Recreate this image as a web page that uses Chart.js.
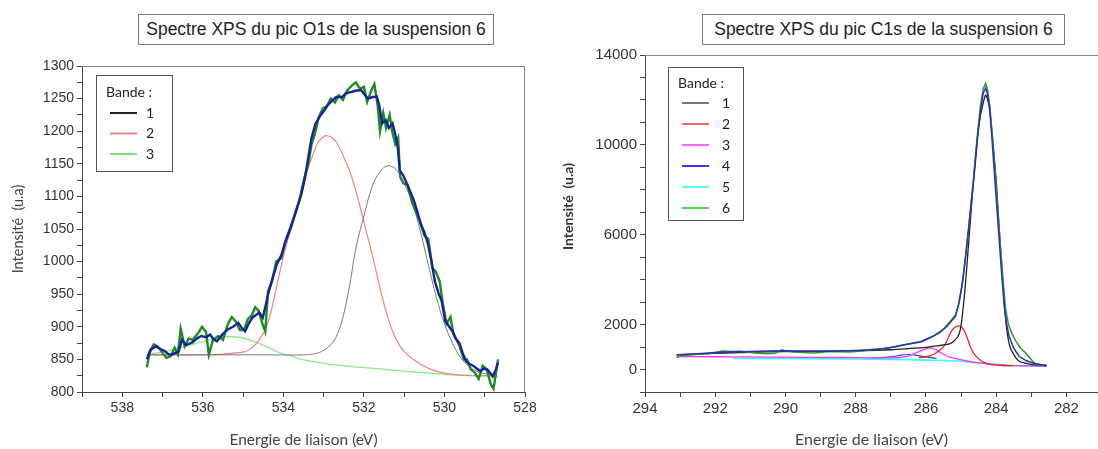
<!DOCTYPE html>
<html>
<head>
<meta charset="utf-8">
<script src="https://cdn.jsdelivr.net/npm/chart.js@4.4.1/dist/chart.umd.min.js"></script>
<style>
body { margin: 0; background: #fff; width: 1098px; height: 449px; position: relative; overflow: hidden; }
.wrap { position: absolute; top: 0; height: 449px; }
.title { position: absolute; box-sizing: border-box; border: 1px solid #777; background: #fff;
  font-family: "Liberation Sans", Arial, sans-serif; font-size: 17.5px; color: #222;
  text-align: center; line-height: 29px; height: 31px; }
</style>
</head>
<body>
<div class="wrap" style="left:0;width:560px"><canvas id="o1s"></canvas></div>
<div class="wrap" style="left:560px;width:538px"><canvas id="c1s"></canvas></div>
<div class="title" style="left:138px;top:14px;width:356px">Spectre XPS du pic O1s de la suspension 6</div>
<div class="title" style="left:702px;top:14px;width:363px">Spectre XPS du pic C1s de la suspension 6</div>
<script>
// ---- O1s : [energie (eV), intensite]
const o1sMesure = [
  [537.39,838],[537.32,860],[537.22,873],[537.12,870],[537.00,860],[536.90,852],[536.80,855],[536.70,868],
  [536.62,858],[536.55,897],[536.45,870],[536.35,882],[536.25,880],[536.12,890],[536.02,900],[535.92,892],
  [535.85,857],[535.75,880],[535.62,886],[535.50,880],[535.38,904],[535.28,915],[535.18,908],[535.08,895],
  [534.98,895],[534.88,912],[534.78,918],[534.70,930],[534.62,925],[534.52,905],[534.45,893],[534.38,955],
  [534.28,970],[534.18,1000],[534.05,1005],[533.95,1032],[533.85,1048],[533.72,1072],[533.60,1095],[533.48,1128],
  [533.38,1150],[533.30,1180],[533.22,1195],[533.12,1222],[533.02,1235],[532.92,1238],[532.82,1250],[532.72,1244],
  [532.62,1255],[532.52,1248],[532.42,1262],[532.30,1270],[532.20,1275],[532.10,1265],[532.00,1268],[531.92,1245],
  [531.82,1262],[531.74,1272],[531.66,1240],[531.60,1200],[531.52,1228],[531.45,1205],[531.36,1225],[531.30,1200],
  [531.22,1180],[531.15,1190],[531.10,1130],[531.02,1120],[530.92,1118],[530.80,1090],[530.70,1075],[530.60,1060],
  [530.50,1040],[530.40,1035],[530.30,990],[530.22,985],[530.12,970],[530.04,935],[529.95,905],[529.85,915],
  [529.78,890],[529.70,880],[529.62,870],[529.52,850],[529.44,850],[529.35,835],[529.25,830],[529.15,820],
  [529.05,840],[528.95,835],[528.85,812],[528.78,805],[528.72,830],[528.67,850]
];
const o1sLisse = [
  [537.39,850],[537.30,865],[537.17,870],[537.05,866],[536.95,863],[536.85,858],[536.78,857],[536.68,860],
  [536.60,862],[536.52,880],[536.42,872],[536.26,876],[536.15,882],[536.04,886],[535.92,884],[535.82,888],
  [535.72,880],[535.65,878],[535.52,888],[535.38,896],[535.25,900],[535.12,906],[535.03,898],[534.95,893],
  [534.86,905],[534.77,914],[534.68,918],[534.60,922],[534.51,914],[534.45,930],[534.38,950],[534.28,972],
  [534.16,996],[534.05,1010],[533.95,1030],[533.81,1053],[533.68,1078],[533.55,1104],[533.46,1130],[533.38,1160],
  [533.30,1190],[533.20,1212],[533.07,1225],[532.98,1232],[532.90,1240],[532.80,1246],[532.68,1253],[532.55,1252],
  [532.45,1258],[532.33,1260],[532.20,1262],[532.07,1263],[531.98,1256],[531.90,1250],[531.80,1252],[531.68,1253],
  [531.62,1240],[531.55,1212],[531.46,1217],[531.38,1205],[531.29,1212],[531.22,1195],[531.16,1176],[531.11,1140],
  [531.02,1132],[530.90,1115],[530.76,1094],[530.68,1078],[530.59,1058],[530.50,1045],[530.41,1027],[530.32,1000],
  [530.24,970],[530.15,952],[530.07,940],[529.98,909],[529.88,900],[529.80,893],[529.72,882],[529.63,875],
  [529.55,860],[529.46,847],[529.37,843],[529.28,840],[529.20,836],[529.11,832],[529.02,836],[528.93,834],
  [528.85,828],[528.80,824],[528.72,835],[528.67,845]
];
const o1sBande1 = [
  [537.39,857],[534.5,857],[533.5,857],[533.2,859],[533.0,864],[532.8,874],[532.65,890],[532.5,920],
  [532.35,965],[532.2,1020],[532.0,1070],[531.8,1114],[531.6,1138],[531.4,1147],[531.2,1141],[531.0,1120],
  [530.8,1090],[530.6,1047],[530.4,995],[530.2,945],[530.0,905],[529.8,875],[529.6,853],[529.4,840],
  [529.2,832],[529.0,828],[528.7,827]
];
const o1sBande2 = [
  [537.39,857],[536.0,857],[535.5,858],[535.2,860],[534.95,862],[534.8,867],[534.69,873],[534.55,885],
  [534.43,898],[534.3,925],[534.2,952],[534.08,986],[533.95,1020],[533.81,1050],[533.68,1078],[533.55,1105],
  [533.4,1140],[533.29,1160],[533.15,1182],[533.0,1192],[532.9,1193],[532.78,1190],[532.65,1180],[532.5,1160],
  [532.33,1135],[532.2,1108],[532.07,1078],[531.94,1046],[531.81,1015],[531.64,970],[531.5,935],[531.3,895],
  [531.1,870],[530.9,856],[530.6,843],[530.3,834],[530.0,829],[529.6,826],[528.7,825]
];
const o1sBande3 = [
  [537.39,857],[536.87,863],[536.26,873],[535.65,883],[535.38,885],[535.1,884],[534.95,882],[534.7,877],
  [534.51,872],[534.3,866],[534.08,860],[533.8,855],[533.55,850],[533.2,846],[532.77,842],[532.3,839],
  [531.9,837],[531.5,835],[531.03,832],[530.6,830],[530.15,828],[529.7,826],[529.28,825],[528.67,824]
];

// ---- C1s : [energie (eV), intensite]
const c1sMesure = [
  [293.1,520],[293.0,600],[292.8,640],[292.5,680],[292.2,700],[292.0,760],[291.8,820],[291.5,800],
  [291.3,810],[291.0,760],[290.8,720],[290.5,700],[290.3,720],[290.1,880],[290.0,840],[289.8,780],
  [289.5,760],[289.2,740],[289.0,760],[288.8,800],[288.5,790],[288.2,780],[288.0,800],[287.8,830],
  [287.6,880],[287.3,900],[287.0,980],[286.7,1080],[286.4,1170],[286.1,1250],[285.8,1480],[285.5,1800],
  [285.3,2150],[285.15,2450],[285.05,3000],[284.95,3900],[284.85,5300],[284.75,6800],[284.65,8400],[284.55,10200],
  [284.45,11700],[284.37,12500],[284.3,12740],[284.24,12400],[284.18,11700],[284.1,10300],[284.02,8600],[283.95,7000],
  [283.88,5500],[283.8,3900],[283.73,2700],[283.65,2000],[283.55,1600],[283.44,1260],[283.3,950],[283.16,740],
  [283.0,450],[282.93,300],[282.8,200],[282.56,170]
];
const c1sEnveloppe = [
  [293.1,660],[292.5,700],[292.0,760],[291.5,790],[291.0,800],[290.5,820],[290.0,840],[289.5,830],
  [289.0,810],[288.5,830],[288.0,850],[287.6,876],[287.2,940],[286.9,1000],[286.64,1095],[286.4,1160],
  [286.15,1240],[285.95,1380],[285.77,1500],[285.6,1650],[285.4,1926],[285.25,2200],[285.16,2370],[285.07,2900],
  [284.98,3700],[284.91,4500],[284.84,5480],[284.77,6500],[284.7,7550],[284.6,9100],[284.51,10660],[284.44,11600],
  [284.37,12300],[284.3,12520],[284.25,12300],[284.19,11700],[284.12,10300],[284.05,8740],[283.97,7000],[283.9,5480],
  [283.84,4200],[283.77,2810],[283.7,2000],[283.63,1480],[283.5,950],[283.35,590],[283.15,400],[282.98,300],
  [282.75,220],[282.56,180]
];
const c1sBande1 = [
  [293.1,650],[292.0,720],[291.0,770],[290.0,800],[289.0,820],[288.0,840],[287.0,880],[286.5,930],
  [286.0,990],[285.6,1070],[285.4,1120],[285.3,1160],[285.21,1260],[285.1,1450],[285.02,1780],[284.95,2600],
  [284.88,3700],[284.81,5100],[284.74,6520],[284.65,8300],[284.56,9920],[284.46,11200],[284.37,11850],[284.3,12220],
  [284.25,12050],[284.19,11630],[284.1,10200],[284.0,8440],[283.93,6700],[283.86,5040],[283.79,3500],[283.72,2070],
  [283.65,1300],[283.58,890],[283.45,550],[283.35,370],[283.1,260],[282.98,220],[282.56,180]
];
const c1sBande2 = [
  [286.2,530],[285.95,580],[285.77,680],[285.6,870],[285.49,1040],[285.4,1280],[285.3,1630],[285.2,1850],
  [285.07,1940],[284.98,1880],[284.88,1630],[284.8,1300],[284.7,890],[284.6,640],[284.47,440],[284.3,290],
  [284.19,230],[283.9,190],[283.5,170]
];
const c1sBande3 = [
  [293.1,580],[292.0,570],[291.0,560],[290.0,550],[289.0,540],[288.0,530],[287.0,520],[286.6,560],
  [286.35,700],[286.1,860],[285.91,960],[285.78,930],[285.67,840],[285.5,680],[285.3,540],[285.1,470],
  [284.84,380],[284.6,320],[284.37,270],[284.1,230],[283.9,190],[283.5,170],[283.0,160],[282.56,150]
];
const c1sBande5 = [
  [291.5,500],[290.0,490],[289.0,480],[288.0,470],[287.0,450],[286.0,420],[285.5,400],[285.0,370],
  [284.5,300],[284.0,230],[283.5,180],[283.0,160],[282.56,150]
];
const c1sPetitPic = [
  [287.6,500],[287.0,560],[286.7,640],[286.5,670],[286.3,640],[286.0,560],[285.7,500]
];

const c1sLabelsY = [0, 2000, 6000, 10000, 14000];

const pts = arr => arr.map(([x, y]) => ({ x, y }));

// legend box drawn inside the plot, from datasets having a "bande" label
const bandLegend = {
  id: 'bandLegend',
  afterDatasetsDraw(chart, args, o) {
    const ctx = chart.ctx;
    ctx.save();
    ctx.fillStyle = '#fff';
    ctx.fillRect(o.x, o.y, o.w, o.h);
    ctx.strokeStyle = '#555';
    ctx.lineWidth = 1;
    ctx.strokeRect(o.x + 0.5, o.y + 0.5, o.w, o.h);
    ctx.font = o.font;
    ctx.fillStyle = '#222';
    ctx.textBaseline = 'middle';
    ctx.fillText('Bande :', o.x + o.titleX, o.y + o.titleY);
    const items = chart.data.datasets.filter(d => d.bande).sort((a, b) => a.bande - b.bande);
    items.forEach((d, i) => {
      const y = o.y + o.firstRow + i * o.rowGap;
      ctx.strokeStyle = d.legendColor || d.borderColor;
      ctx.lineWidth = 2;
      ctx.beginPath();
      ctx.moveTo(o.x + o.lineX, y);
      ctx.lineTo(o.x + o.lineX + o.lineW, y);
      ctx.stroke();
      ctx.fillText(String(d.bande), o.x + o.textX, y);
    });
    ctx.restore();
  }
};

// top / right frame lines
const frame = {
  id: 'frame',
  beforeDatasetsDraw(chart, args, o) {
    const a = chart.chartArea, ctx = chart.ctx;
    ctx.save();
    ctx.strokeStyle = '#888';
    ctx.lineWidth = 1;
    ctx.beginPath();
    ctx.moveTo(a.left, a.top + 0.5);
    ctx.lineTo(a.right, a.top + 0.5);
    if (o.right) {
      ctx.moveTo(a.right - 0.5, a.top);
      ctx.lineTo(a.right - 0.5, a.bottom);
    }
    ctx.stroke();
    ctx.restore();
  }
};

function line(data, color, width, extra) {
  return Object.assign({
    data: pts(data), borderColor: color, borderWidth: width,
    pointRadius: 0, fill: false, tension: 0
  }, extra || {});
}

function axisCommon(size) {
  return {
    type: 'linear',
    grid: { drawOnChartArea: false, tickLength: 5, tickColor: '#444' },
    border: { color: '#444' },
    ticks: { color: '#333', font: { family: 'Liberation Sans', size: size }, padding: 3,
      autoSkip: false, maxRotation: 0, includeBounds: false }
  };
}

// ---- O1s chart
const o1sX = axisCommon(14);
Object.assign(o1sX, {
  min: 528, max: 539, reverse: true,
  afterFit: s => { s.height = 57; },
  title: { display: true, text: 'Energie de liaison (eV)', color: '#444',
    font: { family: 'Lato', size: 15.5 }, padding: { top: 4, bottom: 0 } }
});
o1sX.ticks.stepSize = 1;
o1sX.ticks.callback = v => (v % 2 === 0 ? String(v) : '');

const o1sY = axisCommon(14);
Object.assign(o1sY, {
  min: 800, max: 1300,
  afterFit: s => { s.width = 82; },
  title: { display: true, text: 'Intensité  (u.a)', color: '#444',
    font: { family: 'Lato', size: 14.5 }, padding: { top: 10, bottom: 0 } }
});
o1sY.ticks.stepSize = 25;
o1sY.ticks.callback = v => (v % 50 === 0 ? String(v) : '');

new Chart(document.getElementById('o1s'), {
  type: 'line',
  data: {
    datasets: [
      line(o1sLisse, '#15239a', 2.4),
      line(o1sMesure, '#1f8a22', 2.4),
      line(o1sBande1, '#7a7a7a', 1, { bande: 1, tension: 0.4, legendColor: '#222' }),
      line(o1sBande2, '#f08585', 1.2, { bande: 2, tension: 0.4 }),
      line(o1sBande3, '#8fe88f', 1.4, { bande: 3, tension: 0.4, legendColor: '#7de07d' })
    ]
  },
  options: {
    animation: false, responsive: true, maintainAspectRatio: false, parsing: false,
    layout: { padding: { top: 66, right: 35, left: 0, bottom: 0 } },
    scales: { x: o1sX, y: o1sY },
    plugins: {
      legend: { display: false }, tooltip: { enabled: false },
      frame: { right: true },
      bandLegend: { x: 96, y: 75, w: 76, h: 96, font: '14px Lato',
        titleX: 10, titleY: 17, firstRow: 38, rowGap: 20.5, lineX: 14, lineW: 27, textX: 50 }
    }
  },
  plugins: [frame, bandLegend]
});

// ---- C1s chart
const c1sX = axisCommon(15);
Object.assign(c1sX, {
  min: 281.1, max: 294, reverse: true,
  afterFit: s => { s.height = 57; },
  title: { display: true, text: 'Energie de liaison (eV)', color: '#444',
    font: { family: 'Lato', size: 16 }, padding: { top: 0, bottom: 0 } }
});
c1sX.ticks.stepSize = 1;
c1sX.ticks.callback = v => (v % 2 === 0 ? String(v) : '');

const c1sY = axisCommon(15);
Object.assign(c1sY, {
  min: -1000, max: 14000,
  afterFit: s => { s.width = 85; },
  // leading spaces lift the rotated text a bit above the axis centre, as in the original
  title: { display: true, text: '          Intensité  (u.a)', color: '#333',
    font: { family: 'Lato', size: 14, weight: 'bold' }, padding: { top: 0, bottom: 0 } }
});
c1sY.ticks.stepSize = 1000;
c1sY.ticks.callback = v => (c1sLabelsY.includes(v) ? String(v) : '');

new Chart(document.getElementById('c1s'), {
  type: 'line',
  data: {
    datasets: [
      line(c1sEnveloppe, '#2a2fb8', 1.5, { bande: 4, legendColor: '#3a3ae0' }),
      line(c1sMesure, '#2f9a2f', 1.5, { bande: 6, legendColor: '#44e044' }),
      line(c1sBande1, '#222222', 1.3, { bande: 1, tension: 0.3, legendColor: '#777' }),
      line(c1sBande2, '#ff2020', 1.3, { bande: 2, tension: 0.4, legendColor: '#ff6060' }),
      line(c1sBande3, '#ff33ff', 1.3, { bande: 3, tension: 0.4, legendColor: '#ff66ff' }),
      line(c1sBande5, '#33ffff', 1.6, { bande: 5, tension: 0.4, legendColor: '#55ffff' }),
      line(c1sPetitPic, '#3a3ae0', 1.2, { tension: 0.4 })
    ]
  },
  options: {
    animation: false, responsive: true, maintainAspectRatio: false, parsing: false,
    layout: { padding: { top: 55, right: 0, left: 0, bottom: 0 } },
    scales: { x: c1sX, y: c1sY },
    plugins: {
      legend: { display: false }, tooltip: { enabled: false },
      frame: { right: false },
      bandLegend: { x: 108, y: 67, w: 75, h: 153, font: '14px Lato',
        titleX: 10, titleY: 16, firstRow: 36, rowGap: 21, lineX: 14, lineW: 27, textX: 54 }
    }
  },
  plugins: [frame, bandLegend]
});
</script>
</body>
</html>
